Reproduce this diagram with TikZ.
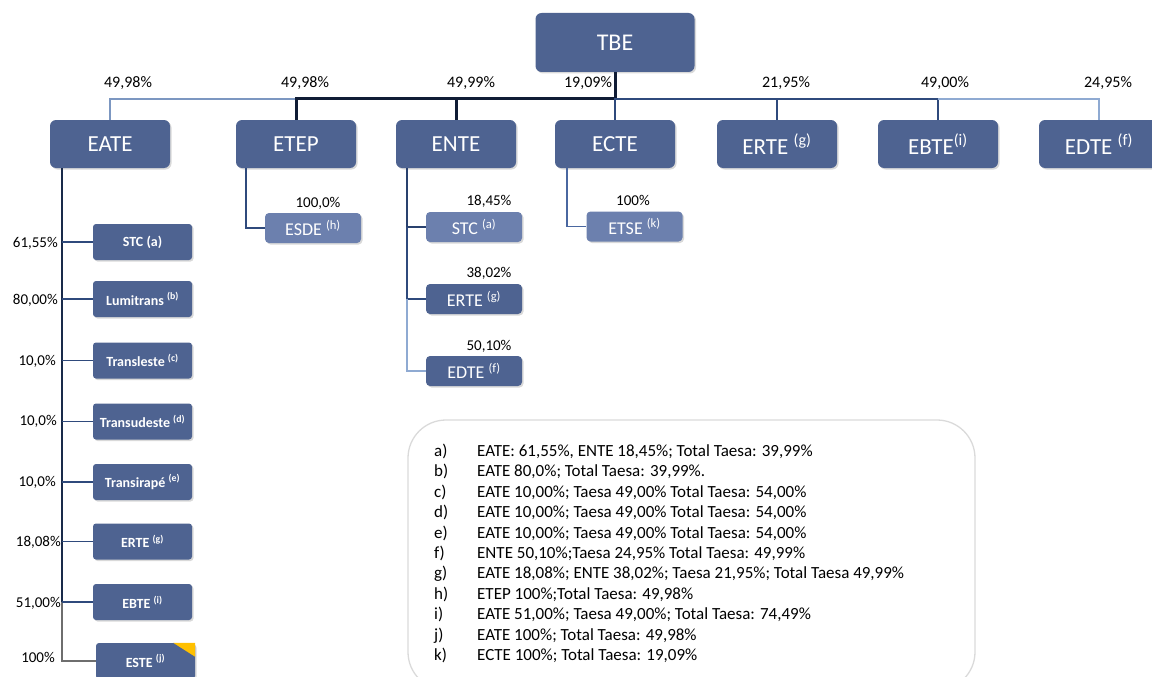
\documentclass[tikz,border=0pt]{standalone}
\usepackage{fontspec}
\setmainfont{Carlito}
\usepackage{array}
\usetikzlibrary{shadows,positioning,calc}

\definecolor{firmblue}{HTML}{4E6391}
\definecolor{firmpale}{HTML}{6C80AE}
\definecolor{navyline}{HTML}{101C35}
\definecolor{linkblue}{HTML}{2F4A7C}
\definecolor{linkmid}{HTML}{4A67A0}
\definecolor{linkpale}{HTML}{8FAAD2}
\definecolor{linkgray}{HTML}{6E6E6E}
\definecolor{framegray}{HTML}{DADADA}
\definecolor{flagyellow}{HTML}{FFC000}

\tikzset{
  firm/.style={rectangle, rounded corners=6pt, fill=firmblue, text=white, inner sep=0pt,
    drop shadow={opacity=0.3, shadow xshift=1.5pt, shadow yshift=-1.5pt}},
  topfirm/.style={firm, minimum width=120pt, minimum height=48pt, font=\fontsize{23}{25}\selectfont},
  subfirm/.style={firm, rounded corners=4pt, minimum width=96pt, minimum height=30pt, font=\fontsize{18}{20}\selectfont},
  sidefirm/.style={firm, rounded corners=3pt, minimum width=99pt, minimum height=36pt, font=\fontsize{14}{16}\selectfont\bfseries},
  pct/.style={font=\fontsize{15}{17}\selectfont, inner sep=0pt},
  toppct/.style={font=\fontsize{16}{18}\selectfont, inner sep=0pt},
  link/.style={line width=1.8pt}
}

\begin{document}
\begin{tikzpicture}[x=1pt,y=-1pt]
\useasboundingbox (0,0) rectangle (1152,677);

% holding and first level
\node[topfirm, minimum width=159pt, minimum height=59pt, font=\fontsize{24}{26}\selectfont] (tbe) at (615,42.5) {TBE};
\node[topfirm] (eate) at (110,144) {EATE};
\node[topfirm] (etep) at (296,144) {ETEP};
\node[topfirm] (ente) at (456,144) {ENTE};
\node[topfirm] (ecte) at (615,144) {ECTE};
\node[topfirm] (erte) at (777,144) {ERTE \textsuperscript{(g)}};
\node[topfirm] (ebte) at (938,144) {EBTE\textsuperscript{(i)}};
\node[topfirm] (edte) at (1099,144) {EDTE \textsuperscript{(f)}};
\coordinate (bar) at (0,99);

\draw[link, linkpale!80!linkblue] (eate.north) |- (etep.north |- bar);
\draw[line width=3pt, navyline] (etep.north) |- (tbe.south |- bar) -- (tbe.south);
\draw[line width=3pt, navyline] (ente.north) -- (ente.north |- bar);
\draw[link, linkblue] (ecte.north) -- (ecte.north |- bar) -| (ebte.north);
\draw[link, linkblue] (erte.north) -- (erte.north |- bar);
\draw[link, linkpale] (ebte.north |- bar) -| (edte.north);

\node[toppct] (p-eate) at (128,83) {49,98\%};
\node[toppct] (p-etep) at (305,83) {49,98\%};
\node[toppct] (p-ente) at (471,83) {49,99\%};
\node[toppct] (p-ecte) at (588,83) {19,09\%};
\node[toppct] (p-erte) at (786,83) {21,95\%};
\node[toppct] (p-ebte) at (945,83) {49,00\%};
\node[toppct] (p-edte) at (1108,83) {24,95\%};

% EATE holdings
\coordinate (eate-trunk) at ([xshift=12pt]eate.south west);
\node[sidefirm] (stc-a) at (142.5,242) {STC (a)};
\node[sidefirm] (lumi) at (142.5,299) {Lumitrans \textsuperscript{(b)}};
\node[sidefirm] (tleste) at (142.5,360.5) {Transleste \textsuperscript{(c)}};
\node[sidefirm] (tsud) at (142.5,421.5) {Transudeste \textsuperscript{(d)}};
\node[sidefirm] (tira) at (142.5,482) {Transirapé \textsuperscript{(e)}};
\node[sidefirm] (erte-a) at (142.5,541.5) {ERTE \textsuperscript{(g)}};
\node[sidefirm] (ebte-a) at (142.5,602) {EBTE \textsuperscript{(i)}};
\node[sidefirm] (este) at (145.5,661) {ESTE \textsuperscript{(j)}};
\fill[flagyellow] ([xshift=-22pt]este.north east) -- (este.north east) -- ([yshift=-14pt]este.north east) -- cycle;

\draw[link, navyline!70!linkblue] (eate-trunk) -- (eate-trunk |- ebte-a.west);
\draw[link, linkgray] (eate-trunk |- ebte-a.west) |- (este.west);
\draw[link, linkblue] (eate-trunk |- stc-a.west) -- (stc-a.west);
\draw[link, linkblue] (eate-trunk |- lumi.west) -- (lumi.west);
\draw[link, linkblue] (eate-trunk |- tleste.west) -- (tleste.west);
\draw[link, linkblue] (eate-trunk |- tsud.west) -- (tsud.west);
\draw[link, linkblue] (eate-trunk |- tira.west) -- (tira.west);
\draw[link, linkblue] (eate-trunk |- erte-a.west) -- (erte-a.west);
\draw[link, linkblue] (eate-trunk |- ebte-a.west) -- (ebte-a.west);

\node[pct, anchor=east] (p-stc-a) at (58,243) {61,55\%};
\node[pct, anchor=east] (p-lumi) at (58,300) {80,00\%};
\node[pct, anchor=east] (p-tleste) at (56,361) {10,0\%};
\node[pct, anchor=east] (p-tsud) at (57,421) {10,0\%};
\node[pct, anchor=east] (p-tira) at (56,482) {10,0\%};
\node[pct, anchor=east] (p-erte-a) at (61,542) {18,08\%};
\node[pct, anchor=east] (p-ebte-a) at (61,603) {51,00\%};
\node[pct, anchor=east] (p-este) at (55,657) {100\%};

% ETEP, ENTE and ECTE holdings
\node[subfirm, fill=firmpale] (esde) at (313,228) {ESDE \textsuperscript{(h)}};
\node[subfirm, fill=firmpale] (stc-n) at (474,227) {STC \textsuperscript{(a)}};
\node[subfirm] (erte-n) at (474,299) {ERTE \textsuperscript{(g)}};
\node[subfirm] (edte-n) at (474,371) {EDTE \textsuperscript{(f)}};
\node[subfirm, fill=firmpale] (etse) at (634.5,226.5) {ETSE \textsuperscript{(k)}};

\coordinate (etep-trunk) at ([xshift=10pt]etep.south west);
\coordinate (ente-trunk) at ([xshift=11pt]ente.south west);
\coordinate (ecte-trunk) at ([xshift=12pt]ecte.south west);
\draw[link, linkblue] (etep-trunk) |- (esde.west);
\draw[link, linkblue!80!navyline] (ente-trunk) |- (stc-n.west);
\draw[link, linkblue] (ente-trunk |- stc-n.west) |- (erte-n.west);
\draw[link, linkpale] (ente-trunk |- erte-n.west) |- (edte-n.west);
\draw[link, linkmid] (ecte-trunk) |- (etse.west);

\node[pct] (p-esde) at (318,203) {100,0\%};
\node[pct] (p-stc-n) at (489,201) {18,45\%};
\node[pct] (p-erte-n) at (489,273) {38,02\%};
\node[pct] (p-edte-n) at (489,346) {50,10\%};
\node[pct] (p-etse) at (633,200) {100\%};

% notes
\draw[framegray, line width=1.3pt, rounded corners=38pt] (408,420) rectangle (975,690);
\node[anchor=north west, inner sep=0pt, font=\fontsize{17}{20.4}\selectfont] (notes) at (434,442)
{\begin{tabular}{@{}p{43pt}@{}l@{}}
a) & EATE: 61,55\%, ENTE 18,45\%; Total Taesa: 39,99\% \\
b) & EATE 80,0\%; Total Taesa: 39,99\%. \\
c) & EATE 10,00\%; Taesa 49,00\% Total Taesa: 54,00\% \\
d) & EATE 10,00\%; Taesa 49,00\% Total Taesa: 54,00\% \\
e) & EATE 10,00\%; Taesa 49,00\% Total Taesa: 54,00\% \\
f) & ENTE 50,10\%;Taesa 24,95\% Total Taesa: 49,99\% \\
g) & EATE 18,08\%; ENTE 38,02\%; Taesa 21,95\%; Total Taesa 49,99\% \\
h) & ETEP 100\%;Total Taesa: 49,98\% \\
i) & EATE 51,00\%; Taesa 49,00\%; Total Taesa: 74,49\% \\
j) & EATE 100\%; Total Taesa: 49,98\% \\
k) & ECTE 100\%; Total Taesa: 19,09\% \\
\end{tabular}};
\end{tikzpicture}
\end{document}
